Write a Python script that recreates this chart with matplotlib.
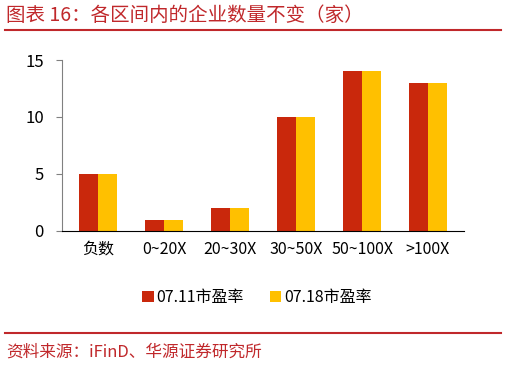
import numpy as np
import matplotlib.pyplot as plt

plt.rcParams['font.family'] = ['Noto Sans CJK SC', 'DejaVu Sans']

# data
categories = ['负数', '0~20X', '20~30X', '30~50X', '50~100X', '>100X']
pe_0711 = [5, 1, 2, 10, 14, 13]
pe_0718 = [5, 1, 2, 10, 14, 13]
labels = ['07.11市盈率', '07.18市盈率']

red = '#C9280C'
yellow = '#FFC000'
title_red = '#C0282B'

fig = plt.figure(figsize=(5.06, 3.66), dpi=100)
ax = fig.add_axes([0.1225, 0.369, 0.795, 0.467])

x = np.arange(len(categories))
w = 0.29
ax.bar(x - w/2, pe_0711, w, color=red, label=labels[0])
ax.bar(x + w/2, pe_0718, w, color=yellow, label=labels[1])

ax.set_xlim(-0.55, len(categories) - 0.45)
ax.set_ylim(0, 15)
ax.set_yticks([0, 5, 10, 15])
ax.set_xticks(x)
ax.set_xticklabels(categories)
ax.tick_params(axis='y', length=4, color='#808080', labelsize=12, pad=9)
ax.tick_params(axis='x', length=0, labelsize=11.5, pad=7)
for s in ['top', 'right']:
    ax.spines[s].set_visible(False)
ax.spines['left'].set_color('#808080')
ax.spines['bottom'].set_color('black')

fig.legend(loc='center', bbox_to_anchor=(0.508, 0.188), ncol=2, frameon=False,
           fontsize=11.5, handlelength=0.7, handleheight=0.7, handletextpad=0.2,
           columnspacing=1.6)

# title and source
fig.text(0.012, 0.957, '图表 16：各区间内的企业数量不变（家）', color=title_red,
         fontsize=14, va='center')
fig.add_artist(plt.Line2D([0.01, 0.99], [0.918, 0.918], color=title_red, lw=1.5))
fig.add_artist(plt.Line2D([0.01, 0.99], [0.09, 0.09], color=title_red, lw=1.5))
fig.text(0.012, 0.038, '资料来源：iFinD、华源证券研究所', color=title_red,
         fontsize=12, va='center')

fig.savefig('out.png', dpi=100)
